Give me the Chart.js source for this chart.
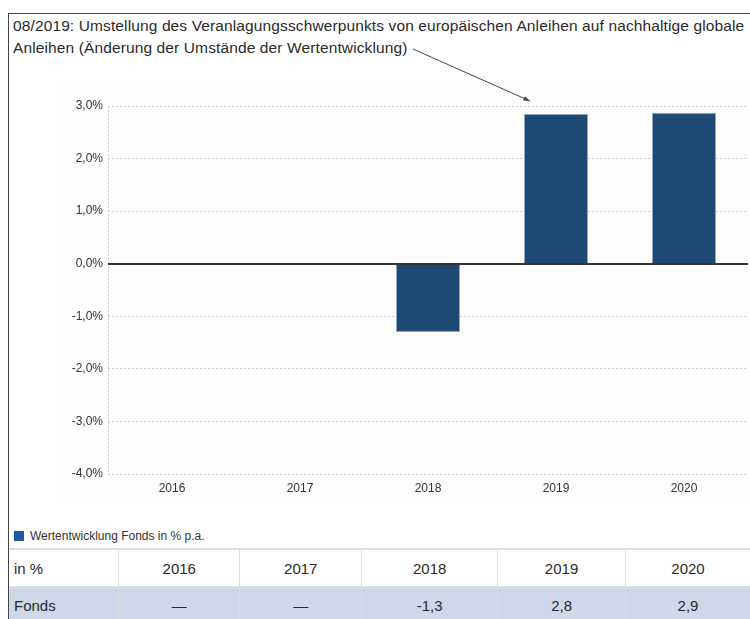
<!DOCTYPE html>
<html><head><meta charset="utf-8">
<script src="https://cdn.jsdelivr.net/npm/chart.js@4/dist/chart.umd.min.js"></script>
<style>
html,body{margin:0;padding:0;background:#fff;}
body{width:750px;height:619px;position:relative;overflow:hidden;font-family:"Liberation Sans",Arial,sans-serif;color:#333;}
#frame{position:absolute;left:8px;top:13px;width:760px;height:620px;border-left:1px solid #444;border-top:1px solid #444;}
#bg{position:absolute;left:62px;top:80px;width:688px;height:422px;background:#fdfdfd;}
#wrap{position:absolute;left:0;top:0;width:750px;height:502px;}
#note{position:absolute;left:13px;top:15px;width:740px;font-size:15.5px;letter-spacing:0.12px;line-height:22px;color:#2a2a2a;white-space:nowrap;}
#legend{position:absolute;left:14px;top:529px;font-size:12px;color:#333;line-height:14px;}
#legend span.sq{display:inline-block;width:10px;height:10px;background:#1c5c9e;vertical-align:-1px;margin-right:6px;}
table{position:absolute;left:9px;top:548px;border-collapse:collapse;font-size:15px;color:#2a2a2a;}
td{padding:0;height:36px;text-align:center;border-left:1px solid #ddd;}
td:first-child{text-align:left;padding-left:5px;border-left:none;}
tr.h td{border-top:2px solid #ddd;border-bottom:2px solid #ddd;background:#fff;}
tr.f td{background:#cfd7e8;height:34px;}
</style></head>
<body>
<div id="bg"></div>
<div id="frame"></div>
<div id="note">08/2019: Umstellung des Veranlagungsschwerpunkts von europäischen Anleihen auf nachhaltige globale<br>Anleihen (Änderung der Umstände der Wertentwicklung)</div>
<div id="wrap"><canvas id="c" width="750" height="502"></canvas></div>
<div id="legend"><span class="sq"></span>Wertentwicklung Fonds in % p.a.</div>
<table id="tbl"></table>
<script>
const categories = ["2016", "2017", "2018", "2019", "2020"];
const fondsValues = [null, null, -1.3, 2.85, 2.87];
const tableLabels = ["—", "—", "-1,3", "2,8", "2,9"];
const yTicks = [3, 2, 1, 0, -1, -2, -3, -4];
const seriesName = "Wertentwicklung Fonds in % p.a.";

// table
const colW = [110, 121, 122, 136, 128, 125];
const tbl = document.getElementById('tbl');
let h = '<tr class="h">' + '<td style="width:' + (colW[0]-5) + 'px">in %</td>' +
  categories.map((c,i)=>'<td style="width:'+colW[i+1]+'px">'+c+'</td>').join('') + '</tr>';
h += '<tr class="f"><td>Fonds</td>' + tableLabels.map(v=>'<td>'+v+'</td>').join('') + '</tr>';
tbl.innerHTML = h;

const fmt = v => v.toFixed(1).replace('.', ',') + '%';

const overlay = {
  id: 'overlay',
  beforeDatasetsDraw(chart) {
    const {ctx, chartArea} = chart;
    ctx.save();
    ctx.strokeStyle = '#cfcfcf';
    ctx.lineWidth = 1;
    ctx.setLineDash([2, 2]);
    ctx.beginPath();
    ctx.moveTo(chartArea.left + 0.5, chartArea.top);
    ctx.lineTo(chartArea.left + 0.5, chartArea.bottom);
    ctx.stroke();
    ctx.restore();
  },
  afterDatasetsDraw(chart) {
    const {ctx, chartArea, scales} = chart;
    const y0 = Math.round(scales.y.getPixelForValue(0));
    ctx.save();
    ctx.strokeStyle = '#333';
    ctx.lineWidth = 2;
    ctx.beginPath();
    ctx.moveTo(chartArea.left, y0);
    ctx.lineTo(chartArea.right, y0);
    ctx.stroke();
    // arrow annotation
    const ex = scales.x.getPixelForValue(3) - 26;
    const ey = scales.y.getPixelForValue(3) - 5;
    const sx = 413, sy = 49;
    ctx.strokeStyle = '#444';
    ctx.fillStyle = '#444';
    ctx.lineWidth = 1;
    ctx.beginPath();
    ctx.moveTo(sx, sy);
    ctx.lineTo(ex, ey);
    ctx.stroke();
    const ang = Math.atan2(ey - sy, ex - sx);
    ctx.beginPath();
    ctx.moveTo(ex, ey);
    ctx.lineTo(ex - 7*Math.cos(ang - 0.35), ey - 7*Math.sin(ang - 0.35));
    ctx.lineTo(ex - 7*Math.cos(ang + 0.35), ey - 7*Math.sin(ang + 0.35));
    ctx.closePath();
    ctx.fill();
    ctx.restore();
  }
};

new Chart(document.getElementById('c'), {
  type: 'bar',
  data: {
    labels: categories,
    datasets: [{
      label: seriesName,
      data: fondsValues,
      backgroundColor: '#1f4a74',
      borderColor: '#8da8c6',
      borderWidth: 1,
      barPercentage: 0.5,
      categoryPercentage: 1.0
    }]
  },
  options: {
    responsive: false,
    animation: false,
    layout: {padding: {top: 106, right: 2, bottom: 0, left: 0}},
    plugins: {legend: {display: false}, tooltip: {enabled: false}, title: {display: false}},
    scales: {
      x: {
        grid: {display: false, drawTicks: false},
        border: {display: false},
        ticks: {color: '#333', font: {family: 'Liberation Sans', size: 12}, padding: 7},
        afterFit(s) { s.height = 28; }
      },
      y: {
        min: -4, max: 3,
        afterBuildTicks(s) { s.ticks = yTicks.map(v => ({value: v})); },
        grid: {color: '#d0d0d0', drawTicks: false, lineWidth: 1},
        border: {display: false, dash: [2, 2]},
        ticks: {color: '#333', font: {family: 'Liberation Sans', size: 12}, padding: 5, callback: v => fmt(v)},
        afterFit(s) { s.width = 108; }
      }
    }
  },
  plugins: [overlay]
});
</script>
</body></html>
